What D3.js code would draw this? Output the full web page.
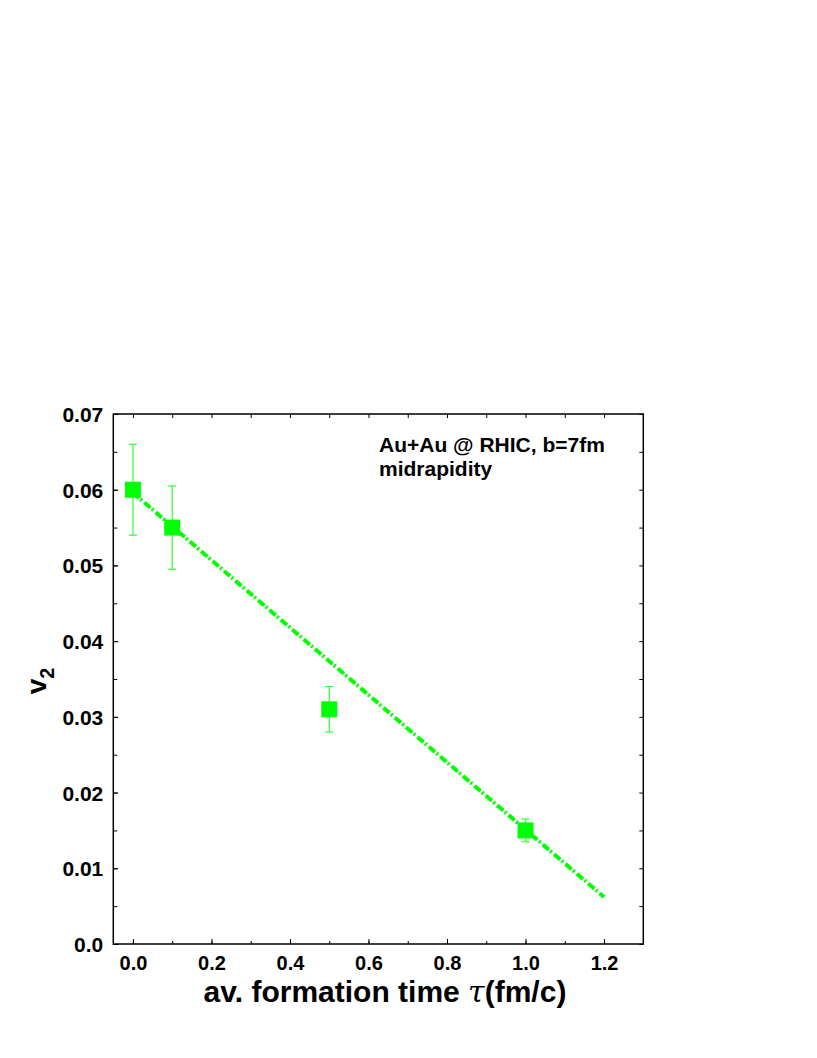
<!DOCTYPE html>
<html>
<head>
<meta charset="utf-8">
<script src="https://cdn.jsdelivr.net/npm/d3@7"></script>
<style>
  body { margin: 0; background: #fff; }
  text { font-family: "Liberation Sans", Arial, sans-serif; font-weight: bold; fill: #000; }
</style>
</head>
<body>
<svg id="chart" width="817" height="1058"></svg>
<script>
// data
const tau = [0.0, 0.1, 0.5, 1.0];
const v2 = [0.060, 0.055, 0.031, 0.015];
const v2Err = [0.006, 0.0055, 0.003, 0.0015];
const fitX = [0.0, 1.2];
const fitY = [0.0596, 0.0062];
const xTicks = [0.0, 0.2, 0.4, 0.6, 0.8, 1.0, 1.2];
const yTicks = [0.0, 0.01, 0.02, 0.03, 0.04, 0.05, 0.06, 0.07];
const notes = ["Au+Au @ RHIC, b=7fm", "midrapidity"];

const green = "#00ff00";
const svg = d3.select("#chart");
const box = { left: 113.3, top: 414, right: 643.3, bottom: 944 };

const x = d3.scaleLinear().domain([-0.05, 1.3]).range([box.left, box.right]);
const y = d3.scaleLinear().domain([0, 0.07]).range([box.bottom, box.top]);

const xMinor = d3.range(0, 13).map(i => i / 10);
const yMinor = d3.range(0, 15).map(i => i * 0.005);

// frame ticks, all pointing inward
const g = svg.append("g");

function drawAxis(axis, transform) {
  const a = g.append("g").attr("transform", transform).call(axis);
  a.select(".domain").remove();
  a.selectAll("line").attr("stroke", "#000").attr("stroke-width", 1);
  return a;
}

// bottom
drawAxis(d3.axisBottom(x).tickValues(xMinor).tickSize(-3).tickFormat(""), `translate(0,${box.bottom})`);
const xb = drawAxis(d3.axisBottom(x).tickValues(xTicks).tickSize(-5).tickFormat(d3.format(".1f")), `translate(0,${box.bottom})`);
xb.selectAll("text").attr("font-size", 20).attr("dy", null).attr("y", 26);
// top
drawAxis(d3.axisTop(x).tickValues(xMinor).tickSize(-4).tickFormat(""), `translate(0,${box.top})`);
// left
drawAxis(d3.axisLeft(y).tickValues(yMinor).tickSize(-4).tickFormat(""), `translate(${box.left},0)`);
const yl = drawAxis(d3.axisLeft(y).tickValues(yTicks).tickSize(-5)
  .tickFormat(d => d === 0 ? "0.0" : d3.format(".2f")(d)), `translate(${box.left},0)`);
yl.selectAll("text").attr("font-size", 21).attr("dy", "0.36em").attr("x", -10);
// right
drawAxis(d3.axisRight(y).tickValues(yMinor).tickSize(-4).tickFormat(""), `translate(${box.right},0)`);

g.append("rect")
  .attr("x", box.left).attr("y", box.top)
  .attr("width", box.right - box.left).attr("height", box.bottom - box.top)
  .attr("fill", "none").attr("stroke", "#000").attr("stroke-width", 1.5);

// linear fit, dash-dot
const line = d3.line().x(d => x(d[0])).y(d => y(d[1]));
svg.append("path")
  .datum(d3.zip(fitX, fitY))
  .attr("d", line)
  .attr("fill", "none")
  .attr("stroke", green)
  .attr("stroke-width", 4)
  .attr("stroke-dasharray", "8,2,2,3");

// error bars
const pts = d3.zip(tau, v2, v2Err);
const eb = svg.append("g").attr("stroke", "#33ff33").attr("stroke-width", 1.2);
pts.forEach(([t, v, e]) => {
  eb.append("line").attr("x1", x(t)).attr("x2", x(t)).attr("y1", y(v - e)).attr("y2", y(v + e));
  [v - e, v + e].forEach(yy => {
    eb.append("line").attr("x1", x(t) - 4).attr("x2", x(t) + 4).attr("y1", y(yy)).attr("y2", y(yy));
  });
});

// square markers
const s = 16;
svg.append("g").selectAll("rect")
  .data(pts)
  .join("rect")
  .attr("x", d => x(d[0]) - s / 2)
  .attr("y", d => y(d[1]) - s / 2)
  .attr("width", s).attr("height", s)
  .attr("fill", green);

// annotation
svg.append("g").selectAll("text")
  .data(notes)
  .join("text")
  .attr("x", 379)
  .attr("y", (d, i) => 452 + i * 24)
  .attr("font-size", 21)
  .text(d => d);

// axis titles
const xt = svg.append("text")
  .attr("x", 385).attr("y", 1002)
  .attr("text-anchor", "middle")
  .attr("font-size", 30);
xt.append("tspan").text("av. formation time ");
xt.append("tspan").attr("font-family", "DejaVu Serif, serif").attr("font-style", "italic").attr("font-weight", "normal").text("τ");
xt.append("tspan").text("(fm/c)");

const yt = svg.append("text")
  .attr("transform", "translate(46,681) rotate(-90)")
  .attr("text-anchor", "middle")
  .attr("font-size", 28);
yt.append("tspan").text("v");
yt.append("tspan").attr("font-size", 20).attr("dy", 8).text("2");
</script>
</body>
</html>
